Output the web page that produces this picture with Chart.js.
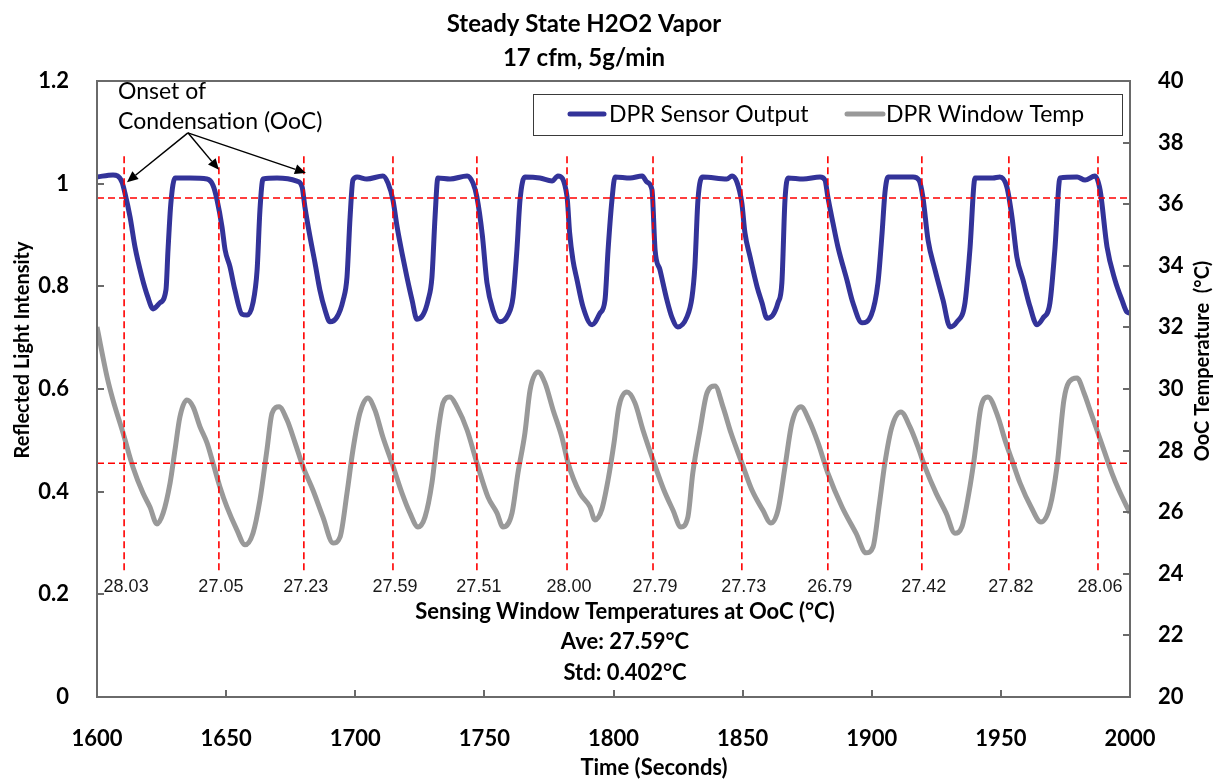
<!DOCTYPE html>
<html>
<head>
<meta charset="utf-8">
<script src="https://cdn.jsdelivr.net/npm/chart.js@4.4.1/dist/chart.umd.min.js"></script>
<style>
  html, body { margin: 0; padding: 0; background: #fff; }
  #wrap { width: 1219px; height: 782px; }
</style>
</head>
<body>
<div id="wrap"><canvas id="chart" width="1219" height="782"></canvas></div>
<script>
// DPR sensor output (left axis)
const sensorTime = [1600, 1606.2, 1609.7, 1610.8, 1612.8, 1614.7, 1617.4, 1619.7, 1621.7, 1624.4, 1626.7, 1627.5, 1628.6, 1630.2, 1636, 1642.6, 1644.9, 1646.5, 1648.4, 1649.6, 1651.5, 1653.4, 1656.1, 1658.1, 1660.4, 1662, 1663.1, 1664.3, 1669.7, 1677.4, 1679.4, 1680.5, 1682.5, 1684.4, 1686.3, 1688.3, 1690.2, 1692.9, 1695.3, 1696.8, 1698, 1699.1, 1700.7, 1704.5, 1710.7, 1712.7, 1714.6, 1716.2, 1718.1, 1720, 1722, 1723.9, 1726.2, 1728.2, 1729.7, 1730.9, 1732, 1736.7, 1743.3, 1745.6, 1747.1, 1749.2, 1751, 1753.3, 1756, 1759.1, 1761.1, 1762.6, 1763.8, 1765.7, 1771.5, 1776.2, 1778.5, 1782, 1783, 1784.3, 1785.9, 1788.2, 1791.7, 1794.8, 1796.7, 1797.9, 1799.4, 1800.6, 1806.4, 1811.1, 1813, 1814.9, 1816.1, 1818, 1820.7, 1822.6, 1824.9, 1828.4, 1830.4, 1831.5, 1832.7, 1834.6, 1843.9, 1845.9, 1847.8, 1849.7, 1850.9, 1852.9, 1855.6, 1857.5, 1859.4, 1861.7, 1863.7, 1865.2, 1866.4, 1867.6, 1873.4, 1880, 1881.9, 1883, 1885, 1886.9, 1890.4, 1892.7, 1896.2, 1899.8, 1902.4, 1904, 1905.1, 1906.3, 1916, 1918.3, 1919.8, 1921.8, 1924.5, 1927.6, 1930.3, 1933, 1936.1, 1938, 1940, 1946.9, 1949.6, 1952.3, 1954.3, 1956.2, 1958.6, 1961.3, 1964, 1966.3, 1969, 1970.9, 1972.9, 1979.5, 1982.6, 1986.4, 1988.4, 1991.1, 1994.2, 1996.9, 1998.8, 2000];
const sensorOutput = [1.013, 1.017, 1.003, 0.982, 0.935, 0.877, 0.818, 0.779, 0.756, 0.768, 0.793, 0.871, 0.962, 1.011, 1.011, 1.009, 0.997, 0.968, 0.916, 0.871, 0.838, 0.793, 0.746, 0.744, 0.768, 0.832, 0.949, 1.009, 1.011, 1.005, 0.994, 0.955, 0.896, 0.846, 0.793, 0.754, 0.731, 0.740, 0.773, 0.818, 0.935, 1.007, 1.013, 1.009, 1.015, 1.001, 0.968, 0.916, 0.865, 0.818, 0.773, 0.736, 0.744, 0.773, 0.818, 0.935, 1.011, 1.009, 1.015, 1.001, 0.974, 0.9, 0.807, 0.754, 0.731, 0.744, 0.779, 0.871, 0.968, 1.013, 1.011, 1.005, 1.015, 0.975, 0.905, 0.851, 0.812, 0.760, 0.725, 0.748, 0.773, 0.871, 0.968, 1.013, 1.011, 1.015, 1.003, 0.988, 0.871, 0.832, 0.773, 0.740, 0.721, 0.740, 0.779, 0.838, 0.968, 1.013, 1.009, 1.015, 1.003, 0.962, 0.904, 0.857, 0.799, 0.768, 0.738, 0.744, 0.768, 0.807, 0.968, 1.011, 1.009, 1.013, 1.007, 0.974, 0.923, 0.877, 0.812, 0.768, 0.729, 0.744, 0.807, 0.904, 0.982, 1.013, 1.013, 1.007, 0.974, 0.890, 0.832, 0.773, 0.721, 0.731, 0.768, 0.871, 1.011, 1.011, 1.013, 0.994, 0.935, 0.857, 0.812, 0.760, 0.725, 0.738, 0.768, 0.871, 1.011, 1.013, 1.007, 1.015, 0.988, 0.877, 0.812, 0.773, 0.750, 0.748];

// DPR window temperature (right axis, deg C)
const windowTime = [1600, 1603.9, 1606.2, 1610.1, 1613.9, 1617.8, 1620.5, 1623.2, 1625.6, 1628.3, 1630.2, 1632.1, 1634.8, 1637.2, 1639.9, 1642.6, 1644.9, 1647.6, 1650.3, 1654.2, 1657.3, 1660.4, 1663.1, 1665.8, 1667.8, 1670.5, 1673.6, 1676.7, 1679.8, 1683.6, 1687.5, 1691.4, 1694.1, 1696.8, 1699.1, 1701.8, 1704.9, 1707.6, 1710.7, 1714.2, 1718.1, 1721.2, 1724.3, 1727, 1729.7, 1732, 1734, 1736.7, 1739.4, 1743.3, 1747.1, 1751.4, 1754.9, 1757.2, 1760.7, 1763, 1765.7, 1767.7, 1770.8, 1773.5, 1776.6, 1780, 1782.4, 1787, 1790.9, 1792.8, 1795.5, 1797.9, 1800.2, 1802.1, 1805.2, 1808.3, 1811.4, 1815.7, 1819.5, 1823, 1826.1, 1828.8, 1830.7, 1833.5, 1836.2, 1839.3, 1842.4, 1845.5, 1849.7, 1853.6, 1857.8, 1860.9, 1863.7, 1866.4, 1869.1, 1872.6, 1875.7, 1879.2, 1883, 1888.5, 1893.9, 1897.8, 1900.5, 1902.8, 1905.1, 1907.8, 1911.3, 1914.8, 1917.9, 1920.6, 1924.9, 1928.8, 1932.2, 1934.9, 1937.6, 1939.6, 1942.3, 1945, 1948.9, 1951.6, 1954.3, 1957.4, 1961.7, 1965.5, 1969, 1971.7, 1974.4, 1976.4, 1979.5, 1982.2, 1984.9, 1987.6, 1990.3, 1993, 1995.7, 2000];
const windowTemp = [32.01, 30.39, 29.64, 28.57, 27.47, 26.62, 26.17, 25.62, 25.97, 26.95, 28.02, 29.09, 29.64, 29.42, 28.77, 28.25, 27.60, 26.82, 26.17, 25.42, 24.94, 25.32, 26.40, 28.02, 29.22, 29.42, 28.99, 28.25, 27.47, 26.72, 25.84, 25.00, 25.19, 26.62, 28.02, 29.22, 29.71, 29.32, 28.44, 27.60, 26.62, 25.97, 25.52, 25.84, 26.95, 28.57, 29.55, 29.74, 29.42, 28.67, 27.60, 26.49, 25.97, 25.52, 25.97, 27.27, 28.57, 29.97, 30.55, 30.19, 29.32, 28.44, 27.60, 26.62, 26.17, 25.75, 26.10, 27.05, 28.25, 29.42, 29.90, 29.55, 28.67, 27.60, 26.72, 26.07, 25.52, 25.84, 27.27, 28.67, 29.87, 30.10, 29.42, 28.57, 27.60, 26.72, 26.07, 25.65, 26.07, 27.47, 28.90, 29.42, 28.99, 28.25, 27.27, 26.17, 25.32, 24.68, 24.87, 26.17, 27.60, 28.77, 29.25, 28.77, 28.12, 27.47, 26.62, 25.97, 25.32, 25.52, 26.62, 27.69, 29.42, 29.74, 29.09, 28.34, 27.69, 26.95, 26.17, 25.68, 26.17, 27.47, 29.64, 30.23, 30.36, 29.87, 29.22, 28.57, 27.92, 27.27, 26.72, 25.97];

// onset of condensation times (s) and the window temperature written under each
const oocTime = [1610.5, 1647.2, 1680.1, 1714.6, 1747.1, 1782.0, 1815.3, 1849.7, 1883.0, 1919.4, 1953.1, 1987.6];
const oocTempLabels = ['28.03', '27.05', '27.23', '27.59', '27.51', '28.00', '27.79', '27.73', '26.79', '27.42', '27.82', '28.06'];
const oocSpan = [0.247, 1.054];     // vertical marker extent, left-axis units
const sensorThreshold = 0.972;      // upper dashed line, left axis
const aveTemp = 27.59;              // lower dashed line, right axis

const xTicks = [1600, 1650, 1700, 1750, 1800, 1850, 1900, 1950, 2000];
const xTickLabels = ['1600', '1650', '1700', '1750', '1800', '1850', '1900', '1950', '2000'];
const leftTicks = [0, 0.2, 0.4, 0.6, 0.8, 1, 1.2];
const leftTickLabels = ['0', '0.2', '0.4', '0.6', '0.8', '1', '1.2'];
const rightTicks = [20, 22, 24, 26, 28, 30, 32, 34, 36, 38, 40];

const FONT = 'Lato, "Open Sans", sans-serif';
const BLUE = '#333399';
const GREY = '#999999';
const RED = '#ff0000';

const toPoints = (xs, ys) => xs.map((t, i) => ({ x: t, y: ys[i] }));

const datasets = [
  {
    label: 'DPR Sensor Output', data: toPoints(sensorTime, sensorOutput), yAxisID: 'y',
    borderColor: BLUE, borderWidth: 5, pointRadius: 0, cubicInterpolationMode: 'monotone', order: 2
  },
  {
    label: 'DPR Window Temp', data: toPoints(windowTime, windowTemp), yAxisID: 'y2',
    borderColor: GREY, borderWidth: 5, pointRadius: 0, cubicInterpolationMode: 'monotone', order: 2
  },
  {
    label: 'threshold', yAxisID: 'y', borderColor: RED, borderWidth: 1.6, borderDash: [7, 4],
    pointRadius: 0, order: 1,
    data: [{ x: xTicks[0], y: sensorThreshold }, { x: xTicks[xTicks.length - 1], y: sensorThreshold }]
  },
  {
    label: 'average', yAxisID: 'y2', borderColor: RED, borderWidth: 1.6, borderDash: [7, 4],
    pointRadius: 0, order: 1,
    data: [{ x: xTicks[0], y: aveTemp }, { x: xTicks[xTicks.length - 1], y: aveTemp }]
  }
];
oocTime.forEach(t => {
  datasets.push({
    label: 'ooc', yAxisID: 'y', borderColor: RED, borderWidth: 1.6, borderDash: [7, 4],
    pointRadius: 0, order: 1,
    data: [{ x: t, y: oocSpan[0] }, { x: t, y: oocSpan[1] }]
  });
});

function arrow(ctx, x1, y1, x2, y2) {
  const ang = Math.atan2(y2 - y1, x2 - x1);
  const len = 11, w = 5;
  const bx = x2 - len * Math.cos(ang), by = y2 - len * Math.sin(ang);
  ctx.beginPath();
  ctx.moveTo(x1, y1);
  ctx.lineTo(bx, by);
  ctx.stroke();
  ctx.beginPath();
  ctx.moveTo(x2, y2);
  ctx.lineTo(bx + w * Math.sin(ang), by - w * Math.cos(ang));
  ctx.lineTo(bx - w * Math.sin(ang), by + w * Math.cos(ang));
  ctx.closePath();
  ctx.fill();
}

// frame, inward ticks, legend and all the text around the plot
const overlay = {
  id: 'overlay',
  afterDatasetsDraw(chart) {
    const { ctx, chartArea: a, scales } = chart;
    const x = scales.x, y = scales.y, y2 = scales.y2;
    ctx.save();

    ctx.strokeStyle = '#6a6a6a';
    ctx.lineWidth = 2;
    ctx.strokeRect(a.left, a.top, a.right - a.left, a.bottom - a.top);
    ctx.beginPath();
    xTicks.forEach(v => {
      const px = Math.round(x.getPixelForValue(v));
      ctx.moveTo(px, a.bottom); ctx.lineTo(px, a.bottom - 7);
    });
    leftTicks.forEach(v => {
      const py = Math.round(y.getPixelForValue(v));
      ctx.moveTo(a.left, py); ctx.lineTo(a.left + 7, py);
    });
    rightTicks.forEach(v => {
      const py = Math.round(y2.getPixelForValue(v));
      ctx.moveTo(a.right, py); ctx.lineTo(a.right - 7, py);
    });
    ctx.stroke();

    // legend
    ctx.fillStyle = '#fff';
    ctx.fillRect(533, 94, 589, 41);
    ctx.strokeStyle = '#3a3a3a';
    ctx.lineWidth = 1;
    ctx.strokeRect(533.5, 94.5, 589, 41);
    ctx.lineWidth = 5;
    ctx.lineCap = 'round';
    ctx.strokeStyle = BLUE;
    ctx.beginPath(); ctx.moveTo(570, 114); ctx.lineTo(604, 114); ctx.stroke();
    ctx.strokeStyle = GREY;
    ctx.beginPath(); ctx.moveTo(847, 114); ctx.lineTo(883, 114); ctx.stroke();
    ctx.lineCap = 'butt';
    ctx.fillStyle = '#000';
    ctx.font = '23px ' + FONT;
    ctx.textBaseline = 'middle';
    ctx.textAlign = 'left';
    ctx.fillText('DPR Sensor Output', 609, 115);
    ctx.fillText('DPR Window Temp', 886, 115);

    // onset of condensation note
    ctx.fillText('Onset of', 118, 92);
    ctx.fillText('Condensation (OoC)', 118, 122);
    ctx.strokeStyle = '#000';
    ctx.lineWidth = 1.5;
    const ox = x.getPixelForValue(1635.2), oy = y.getPixelForValue(1.099);
    [[1611.6, 1.003], [1647.2, 1.027], [1680.9, 1.021]].forEach(([tx, ty]) => {
      arrow(ctx, ox, oy, x.getPixelForValue(tx), y.getPixelForValue(ty));
    });

    // temperature at each onset
    ctx.font = '18px "Liberation Sans", Arial, sans-serif';
    ctx.fillStyle = '#1a1a1a';
    ctx.textAlign = 'center';
    oocTime.forEach((t, i) => {
      ctx.fillText(oocTempLabels[i], x.getPixelForValue(t) + 2, 587);
    });

    ctx.fillStyle = '#000';
    ctx.font = 'bold 22px ' + FONT;
    ctx.fillText('Sensing Window Temperatures at OoC (\u00b0C)', 625, 612);
    ctx.fillText('Ave: 27.59\u00b0C', 625, 642);
    ctx.fillText('Std: 0.402\u00b0C', 625, 673);
    ctx.restore();
  },
  afterDraw(chart) {
    const { ctx } = chart;
    ctx.save();
    ctx.fillStyle = '#000';
    ctx.textAlign = 'center';
    ctx.textBaseline = 'middle';
    ctx.font = 'bold 24px ' + FONT;
    ctx.fillText('Steady State H2O2 Vapor', 584, 24);
    ctx.fillText('17 cfm, 5g/min', 584, 58);

    ctx.font = 'bold 22px ' + FONT;
    ctx.fillText('Time (Seconds)', 654, 768);

    ctx.font = 'bold 20px ' + FONT;
    ctx.save();
    ctx.translate(23, 350);
    ctx.rotate(-Math.PI / 2);
    ctx.fillText('Reflected Light Intensity', 0, 0);
    ctx.restore();

    ctx.save();
    ctx.translate(1203, 361);
    ctx.rotate(-Math.PI / 2);
    ctx.fillText('OoC Temperature  (\u00b0C)', 0, 0);
    ctx.restore();
    ctx.restore();
  }
};

const tickFont = { family: FONT, size: 22, weight: 'bold' };

new Chart(document.getElementById('chart'), {
  type: 'line',
  data: { datasets },
  options: {
    responsive: false,
    devicePixelRatio: 1,
    animation: false,
    layout: { padding: { top: 81, left: 0, right: 0, bottom: 0 } },
    plugins: { legend: { display: false }, title: { display: false }, tooltip: { enabled: false } },
    scales: {
      x: {
        type: 'linear', position: 'bottom', min: 1600, max: 2000,
        afterBuildTicks: s => { s.ticks = xTicks.map(v => ({ value: v })); },
        afterFit: s => { s.height = 85; },
        grid: { display: false }, border: { display: false },
        ticks: { font: tickFont, color: '#000', padding: 21, maxRotation: 0, autoSkip: false,
                 callback: (v, i) => xTickLabels[i] }
      },
      y: {
        type: 'linear', position: 'left', min: 0, max: 1.2,
        afterBuildTicks: s => { s.ticks = leftTicks.map(v => ({ value: v })); },
        afterFit: s => { s.width = 97; },
        grid: { display: false }, border: { display: false },
        ticks: { font: tickFont, color: '#000', padding: 20, callback: (v, i) => leftTickLabels[i] }
      },
      y2: {
        type: 'linear', position: 'right', min: 20, max: 40,
        afterBuildTicks: s => { s.ticks = rightTicks.map(v => ({ value: v })); },
        afterFit: s => { s.width = 89; },
        grid: { display: false }, border: { display: false },
        ticks: { font: tickFont, color: '#000', padding: 20 }
      }
    }
  },
  plugins: [overlay]
});
</script>
</body>
</html>
